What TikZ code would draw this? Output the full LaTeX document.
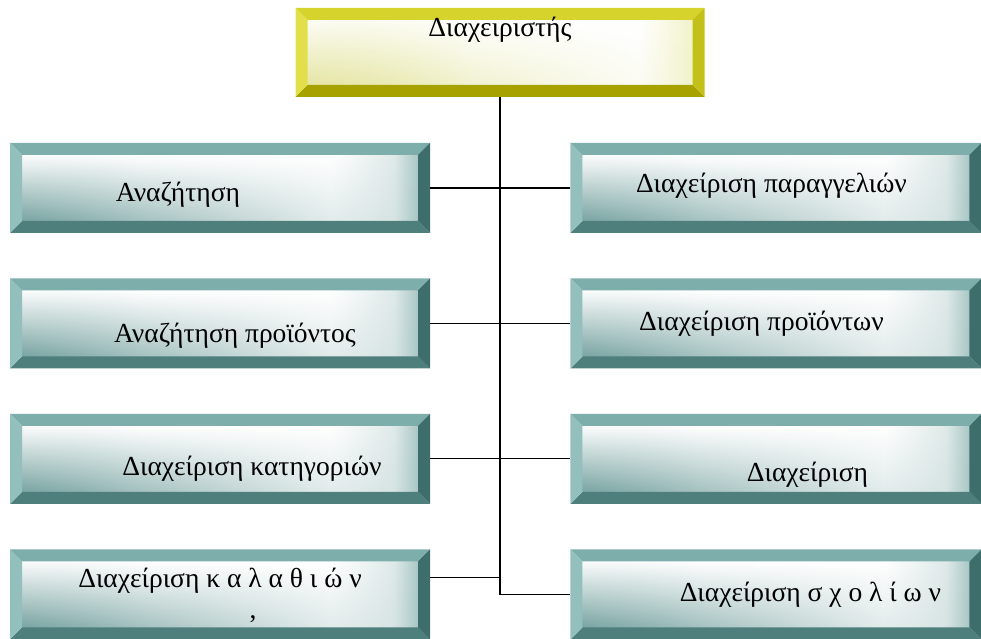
\documentclass[tikz,border=0pt]{standalone}
\usepackage{fontspec}
\setmainfont{Liberation Serif}
\usetikzlibrary{positioning,fadings}

% frame colours: teal for the modules, gold for the admin box
\definecolor{tealtop}{HTML}{7EAEAC}
\definecolor{tealleft}{HTML}{93BFBD}
\definecolor{tealright}{HTML}{3E6E6C}
\definecolor{tealbot}{HTML}{4E7F7D}
\definecolor{tealshade}{HTML}{6E9D9B}
\definecolor{tealpale}{HTML}{DCE8E7}
\definecolor{tealedge}{HTML}{A9C7C5}
\definecolor{goldtop}{HTML}{D6D42C}
\definecolor{goldleft}{HTML}{E2E04A}
\definecolor{goldright}{HTML}{C4C01A}
\definecolor{goldbot}{HTML}{A8A200}
\definecolor{goldshade}{HTML}{E6E6A6}
\definecolor{goldpale}{HTML}{F8F8E2}
\definecolor{goldedge}{HTML}{F2F2CC}

\pgfdeclarehorizontalshading{tealface}{100bp}{color(0bp)=(tealpale); color(25bp)=(tealpale);
  color(40bp)=(white); color(64bp)=(white); color(72bp)=(tealpale);
  color(75bp)=(tealedge); color(100bp)=(tealedge)}
\pgfdeclarehorizontalshading{goldface}{100bp}{color(0bp)=(goldshade); color(25bp)=(goldshade);
  color(38bp)=(goldpale); color(46bp)=(white); color(68bp)=(white); color(75bp)=(goldedge);
  color(100bp)=(goldedge)}

\newcommand{\bvw}{0.36cm}
% bevelled face + four edge bands, #1 = colour prefix
\newcommand{\bevelpaint}[1]{%
  \path (path picture bounding box.south west) coordinate (bsw)
        (path picture bounding box.north east) coordinate (bne)
        (bsw |- bne) coordinate (bnw)
        (bne |- bsw) coordinate (bse);
  \shade[shading=#1face]
    ([shift={(\bvw,\bvw)}]bsw) rectangle ([shift={(-\bvw,-\bvw)}]bne);
  % darker corner bottom left
  \shade[top color=white, bottom color=#1shade, path fading=east, opacity=0.9]
    ([shift={(\bvw,\bvw)}]bsw) rectangle ([shift={(-\bvw,-\bvw)}]bne);
  \fill[#1top]   (bnw) -- (bne) -- ([shift={(-\bvw,-\bvw)}]bne) -- ([shift={(\bvw,-\bvw)}]bnw) -- cycle;
  \fill[#1bot]   (bsw) -- (bse) -- ([shift={(-\bvw,\bvw)}]bse) -- ([shift={(\bvw,\bvw)}]bsw) -- cycle;
  \fill[#1left]  (bsw) -- (bnw) -- ([shift={(\bvw,-\bvw)}]bnw) -- ([shift={(\bvw,\bvw)}]bsw) -- cycle;
  \fill[#1right] (bse) -- (bne) -- ([shift={(-\bvw,-\bvw)}]bne) -- ([shift={(-\bvw,\bvw)}]bse) -- cycle;
}

\tikzset{
  bevel/.style={rectangle, inner sep=0pt, path picture={\bevelpaint{#1}}},
  tealbox/.style={bevel=teal, minimum width=12.6cm, minimum height=2.7cm},
  goldbox/.style={bevel=gold, minimum width=12.27cm, minimum height=2.67cm},
  boxtext/.style={inner sep=1pt, font=\fontsize{23.5}{28}\selectfont},
  link/.style={line width=0.9pt},
}

\begin{document}
\begin{tikzpicture}
  \useasboundingbox (0,0) rectangle (29.43,19.17);

  \node[goldbox] (admin) at (15,17.595) {};

  % left column
  \node[tealbox] (search) at (6.6,13.53) {};
  \node[tealbox, below=1.35cm of search] (prodsearch) {};
  \node[tealbox, below=1.35cm of prodsearch] (catmgmt) {};
  \node[tealbox, below=1.35cm of catmgmt] (cartmgmt) {};

  % right column
  \node[tealbox, minimum width=12.33cm, right=4.2cm of search] (ordmgmt) {};
  \node[tealbox, minimum width=12.33cm, below=1.35cm of ordmgmt] (prodmgmt) {};
  \node[tealbox, minimum width=12.33cm, below=1.35cm of prodmgmt] (mgmt) {};
  \node[tealbox, minimum width=12.33cm, below=1.35cm of mgmt] (commgmt) {};

  % labels
  \node[boxtext] (admin-t) at ([shift={(0,0.675)}]admin.center) {Διαχειριστής};
  \node[boxtext] (search-t) at ([shift={(-1.26,-0.21)}]search.center) {Αναζήτηση};
  \node[boxtext] (prodsearch-t) at ([shift={(0.45,-0.36)}]prodsearch.center) {Αναζήτηση προϊόντος};
  \node[boxtext] (catmgmt-t) at ([shift={(0.96,-0.3)}]catmgmt.center) {Διαχείριση κατηγοριών};
  \node[boxtext] (cartmgmt-t) at ([shift={(0,0.4)}]cartmgmt.center) {Διαχείριση κ α λ α θ ι ώ ν};
  \node[boxtext] (cartmgmt-m) at ([shift={(0.99,-0.75)}]cartmgmt.center) {,};
  \node[boxtext] (ordmgmt-t) at ([shift={(-0.135,0.075)}]ordmgmt.center) {Διαχείριση παραγγελιών};
  \node[boxtext] (prodmgmt-t) at ([shift={(-0.435,0)}]prodmgmt.center) {Διαχείριση προϊόντων};
  \node[boxtext] (mgmt-t) at ([shift={(0.945,-0.465)}]mgmt.center) {Διαχείριση};
  \node[boxtext] (commgmt-t) at ([shift={(1.035,0)}]commgmt.center) {Διαχείριση σ χ ο λ ί ω ν};

  % tree lines
  \coordinate (trunk) at (admin.south |- commgmt.west);
  \draw[link] (admin.south) -- (trunk);
  \draw[link] (search) -- (ordmgmt);
  \draw[link] (prodsearch) -- (prodmgmt);
  \draw[link] (catmgmt) -- (mgmt);
  \draw[link] ([yshift=0.5cm]cartmgmt.east) -- ([yshift=0.5cm]cartmgmt.east -| trunk)
    -- (trunk) -- (commgmt.west);
\end{tikzpicture}
\end{document}
